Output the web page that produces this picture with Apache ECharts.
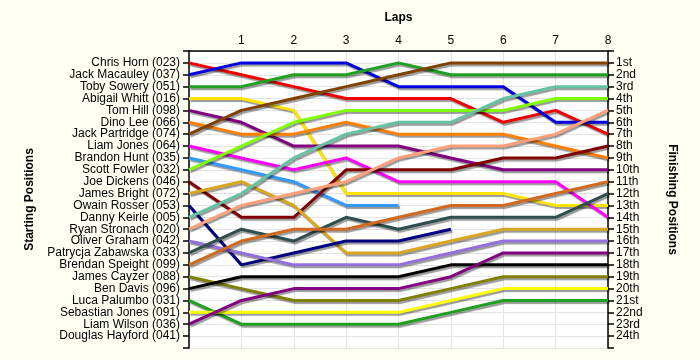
<!DOCTYPE html>
<html>
<head>
<meta charset="utf-8">
<script src="https://cdn.jsdelivr.net/npm/echarts@6/dist/echarts.min.js"></script>
<style>
html,body{margin:0;padding:0;background:#fffff4;}
#c{width:700px;height:360px;}
</style>
</head>
<body>
<div id="c"></div>
<script>
const laps = [0, 1, 2, 3, 4, 5, 6, 7, 8];
const lapLabels = ['', '1', '2', '3', '4', '5', '6', '7', '8'];
const drivers = ['Chris Horn (023)', 'Jack Macauley (037)', 'Toby Sowery (051)', 'Abigail Whitt (016)', 'Tom Hill (098)', 'Dino Lee (066)', 'Jack Partridge (074)', 'Liam Jones (064)', 'Brandon Hunt (035)', 'Scott Fowler (032)', 'Joe Dickens (046)', 'James Bright (072)', 'Owain Rosser (053)', 'Danny Keirle (005)', 'Ryan Stronach (020)', 'Oliver Graham (042)', 'Patrycja Zabawska (033)', 'Brendan Speight (099)', 'James Cayzer (088)', 'Ben Davis (096)', 'Luca Palumbo (031)', 'Sebastian Jones (091)', 'Liam Wilson (036)', 'Douglas Hayford (041)'];
const finishLabels = ['1st','2nd','3rd','4th','5th','6th','7th','8th','9th','10th','11th','12th','13th','14th','15th','16th','17th','18th','19th','20th','21st','22nd','23rd','24th'];

const chrisHorn      = [1, 2, 3, 4, 4, 4, 6, 5, 7];
const jackMacauley   = [2, 1, 1, 1, 3, 3, 3, 6, 6];
const tobySowery     = [3, 3, 2, 2, 1, 2, 2, 2, 2];
const abigailWhitt   = [4, 4, 5, 12, 12, 12, 12, 13, 13];
const tomHill        = [5, 6, 8, 8, 8, 9, 10, 10, 10];
const dinoLee        = [6, 7, 7, 6, 7, 7, 7, 8, 9];
const jackPartridge  = [7, 5, 4, 3, 2, 1, 1, 1, 1];
const liamJones      = [8, 9, 10, 9, 11, 11, 11, 11, 14];
const brandonHunt    = [9, 10, 11, 13, 13];
const scottFowler    = [10, 8, 6, 5, 5, 5, 5, 4, 4];
const joeDickens     = [11, 14, 14, 10, 10, 10, 9, 9, 8];
const jamesBright    = [12, 11, 13, 17, 17, 16, 15, 15, 15];
const owainRosser    = [13, 18, 17, 16, 16, 15];
const dannyKeirle    = [14, 12, 9, 7, 6, 6, 4, 3, 3];
const ryanStronach   = [15, 13, 12, 11, 9, 8, 8, 7, 5];
const oliverGraham   = [16, 17, 18, 18, 18, 17, 16, 16, 16];
const patrycjaZab    = [17, 15, 16, 14, 15, 14, 14, 14, 12];
const brendanSpeight = [18, 16, 15, 15, 14, 13, 13, 12, 11];
const jamesCayzer    = [19, 20, 21, 21, 21, 20, 19, 19, 19];
const benDavis       = [20, 19, 19, 19, 19, 18, 18, 18, 18];
const lucaPalumbo    = [21, 23, 23, 23, 23, 22, 21, 21, 21];
const sebastianJones = [22, 22, 22, 22, 22, 21, 20, 20, 20];
const liamWilson     = [23, 21, 20, 20, 20, 19, 17, 17, 17];
const douglasHayford = [];

const seriesValues = [chrisHorn, jackMacauley, tobySowery, abigailWhitt, tomHill, dinoLee, jackPartridge, liamJones, brandonHunt, scottFowler, joeDickens, jamesBright, owainRosser, dannyKeirle, ryanStronach, oliverGraham, patrycjaZab, brendanSpeight, jamesCayzer, benDavis, lucaPalumbo, sebastianJones, liamWilson, douglasHayford];
const colors = ['#f00000', '#0000e0', '#20a020', '#ffe400', '#800080', '#ff8000', '#804000', '#ff00ff', '#3399ff', '#80ff00', '#800000', '#daa520', '#000080', '#66c2a5', '#ffa07a', '#9370db', '#2f4f4f', '#d2691e', '#808000', '#000000', '#20a020', '#ffff00', '#800080', '#888888'];

const font = 'Liberation Sans';
const chart = echarts.init(document.getElementById('c'));
const series = seriesValues.map((vals, k) => ({
  type: 'line',
  name: drivers[k],
  data: vals.map((p, i) => [laps[i], p]),
  showSymbol: false,
  symbol: 'none',
  animation: false,
  lineStyle: {
    color: colors[k], width: 3,
    shadowColor: 'rgba(0,0,0,0.4)', shadowBlur: 1, shadowOffsetX: 1.5, shadowOffsetY: 2
  },
  itemStyle: {color: colors[k]}
}));

chart.setOption({
  backgroundColor: '#fffff4',
  animation: false,
  grid: {left: 189, right: 92, top: 51, bottom: 12, show: true, backgroundColor: '#ffffff', borderWidth: 0},
  xAxis: {
    type: 'value', min: 0, max: 8, interval: 1, position: 'top',
    name: 'Laps', nameLocation: 'middle', nameGap: 27,
    nameTextStyle: {fontFamily: font, fontWeight: 'bold', fontSize: 12, color: '#000'},
    axisLine: {show: true, lineStyle: {color: '#000', width: 1.5}},
    axisTick: {show: false},
    axisLabel: {fontFamily: font, fontSize: 12, color: '#000', margin: 4, formatter: v => lapLabels[v] || ''},
    splitLine: {show: true, lineStyle: {color: '#e4e4e4', width: 1}}
  },
  yAxis: [{
    type: 'value', min: 0, max: 25, interval: 1, inverse: true, position: 'left',
    name: 'Starting Positions', nameLocation: 'middle', nameRotate: 90, nameGap: 153,
    nameTextStyle: {fontFamily: font, fontWeight: 'bold', fontSize: 12, color: '#000'},
    axisLine: {show: true, onZero: false, lineStyle: {color: '#000', width: 1.5}},
    axisTick: {show: true, length: 6, lineStyle: {color: '#000', width: 1.5}},
    axisLabel: {fontFamily: font, fontSize: 12, color: '#000', margin: 9, formatter: v => drivers[v - 1] || ''},
    splitLine: {show: true, lineStyle: {color: '#e4e4e4', width: 1}}
  }, {
    type: 'value', min: 0, max: 25, interval: 1, inverse: true, position: 'right',
    name: 'Finishing Positions', nameLocation: 'middle', nameRotate: -90, nameGap: 58,
    nameTextStyle: {fontFamily: font, fontWeight: 'bold', fontSize: 12, color: '#000'},
    axisLine: {show: true, onZero: false, lineStyle: {color: '#000', width: 1.5}},
    axisTick: {show: true, length: 6, lineStyle: {color: '#000', width: 1.5}},
    axisLabel: {fontFamily: font, fontSize: 12, color: '#000', margin: 8, formatter: v => finishLabels[v - 1] || ''},
    splitLine: {show: false}
  }],
  series: series
});
</script>
</body>
</html>
